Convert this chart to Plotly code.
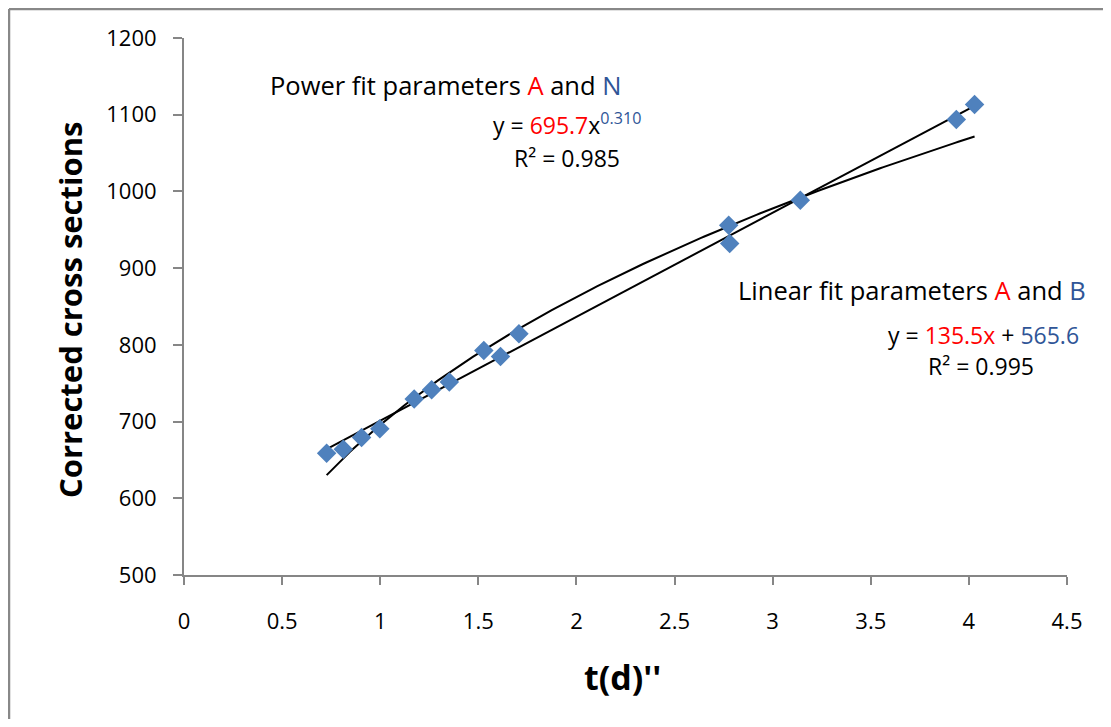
import numpy as np
import plotly.graph_objects as go

# data
t_d = [0.727, 0.812, 0.905, 0.998, 1.173, 1.262, 1.352, 1.528, 1.613, 1.707,
       2.776, 2.781, 3.141, 3.936, 4.029]
cross_sections = [658.8, 664.0, 679.2, 690.5, 729.3, 741.4, 751.5, 792.7, 784.9, 814.5,
                  955.8, 932.0, 988.4, 1093.8, 1113.3]

# fit parameters shown on the chart
lin_A, lin_B = 135.5, 565.6
pow_A, pow_N = 695.7, 0.310

x_ticks = [0, 0.5, 1, 1.5, 2, 2.5, 3, 3.5, 4, 4.5]
x_tick_labels = ["0", "0.5", "1", "1.5", "2", "2.5", "3", "3.5", "4", "4.5"]
y_ticks = [500, 600, 700, 800, 900, 1000, 1100, 1200]

xs = np.linspace(min(t_d), max(t_d), 200)
lin_y = lin_A * xs + lin_B
pow_y = pow_A * xs ** pow_N

FONT = "Open Sans"
RED = "#ff0000"
BLUE = "#2f5597"
AXC = "#868686"

fig = go.Figure()
fig.add_trace(go.Scatter(x=xs, y=pow_y, mode="lines",
                         line=dict(color="black", width=2), hoverinfo="skip"))
fig.add_trace(go.Scatter(x=xs, y=lin_y, mode="lines",
                         line=dict(color="black", width=2), hoverinfo="skip"))
fig.add_trace(go.Scatter(x=t_d, y=cross_sections, mode="markers",
                         marker=dict(symbol="diamond", size=15, color="#4f81bd",
                                     line=dict(width=0))))

# page geometry (the page body has an 8px margin)
OFF = 8
W, H = 1111 - 2 * OFF, 727 - 2 * OFF
PL, PR, PT, PB = 184, 1067, 38, 575   # plot area in page pixels
L, T = PL - OFF, PT - OFF
R, B = W - (PR - OFF), H - (PB - OFF)
pw, ph = PR - PL, PB - PT


def px(xp):
    return (xp - PL) / pw


def py(yp):
    return (PB - yp) / ph


ann = []


def add(text, x, y, xanchor, size, angle=0):
    ann.append(dict(text=text, x=px(x), y=py(y), xref="paper", yref="paper",
                    xanchor=xanchor, yanchor="middle", showarrow=False,
                    textangle=angle,
                    font=dict(family=FONT, size=size, color="black")))


add(f'Power fit parameters <span style="color:{RED}">A</span> and '
    f'<span style="color:{BLUE}">N</span>', 268, 85, "left", 25.5)
add(f'y = <span style="color:{RED}">{pow_A}</span>x'
    f'<sup><span style="color:{BLUE}">{pow_N:.3f}</span></sup>', 567, 124, "center", 23)
add('R² = 0.985', 567, 158, "center", 23)
add(f'Linear fit parameters <span style="color:{RED}">A</span> and '
    f'<span style="color:{BLUE}">B</span>', 736, 290, "left", 25.5)
add(f'y = <span style="color:{RED}">{lin_A}x</span> + '
    f'<span style="color:{BLUE}">{lin_B}</span>', 1081, 335, "right", 23)
add('R² = 0.995', 981, 366, "center", 23)
add("<b>t(d)''</b>", 622, 677, "center", 34)
add("<b>Corrected cross sections</b>", 70, 310, "center", 31, -90)

shapes = [
    dict(type="line", xref="paper", yref="paper", x0=px(OFF + 1), x1=px(1200),
         y0=py(OFF + 1), y1=py(OFF + 1), line=dict(color="#888888", width=2.5)),
    dict(type="line", xref="paper", yref="paper", x0=px(OFF + 1), x1=px(OFF + 1),
         y0=py(OFF + 1), y1=py(800), line=dict(color="#888888", width=2.5)),
]

fig.update_layout(
    width=W, height=H,
    margin=dict(l=L, r=R, t=T, b=B),
    paper_bgcolor="white", plot_bgcolor="white",
    showlegend=False,
    font=dict(family=FONT, color="black"),
    annotations=ann, shapes=shapes,
    xaxis=dict(range=[0, 4.5], tickvals=x_ticks, ticktext=x_tick_labels,
               showgrid=False, zeroline=False, showline=True, linecolor=AXC,
               linewidth=2, ticks="outside", ticklen=8, tickcolor=AXC, tickwidth=2,
               ticklabelstandoff=18,
               tickfont=dict(family=FONT, size=22, color="black")),
    yaxis=dict(range=[500, 1200], tickvals=y_ticks,
               showgrid=False, zeroline=False, showline=True, linecolor=AXC,
               linewidth=2, ticks="outside", ticklen=9, tickcolor=AXC, tickwidth=2,
               ticklabelstandoff=12,
               tickfont=dict(family=FONT, size=22, color="black")),
)

fig.write_html("out.html")
